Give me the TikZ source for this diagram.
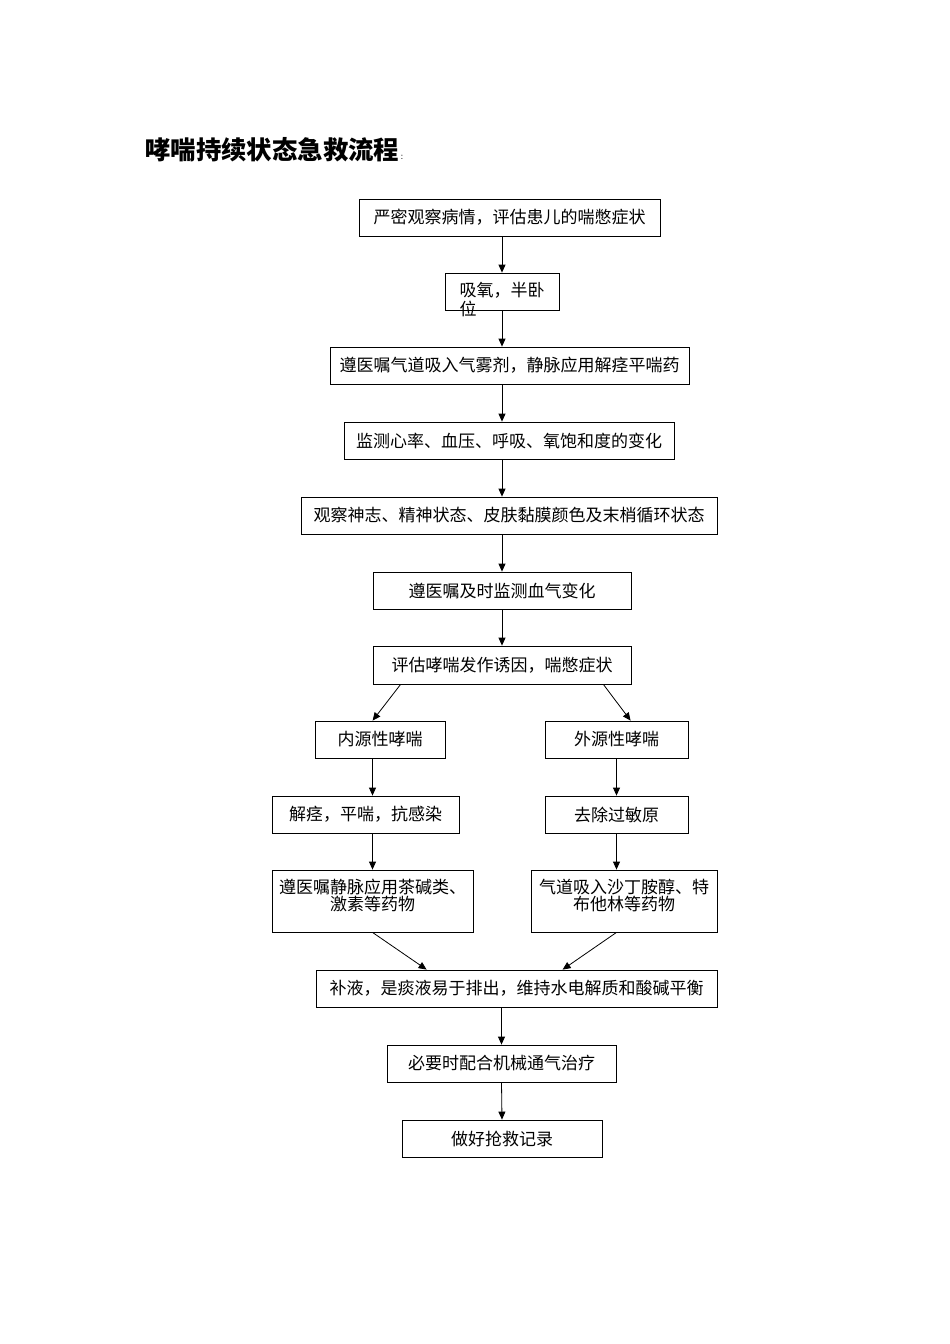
\documentclass[tikz,border=0pt]{standalone}
\usepackage{fontspec}
\newfontfamily\cjk{Noto Sans CJK SC}
\usetikzlibrary{arrows.meta,calc}
\begin{document}
\begin{tikzpicture}[x=1pt,y=-1pt,
  box/.style={draw, line width=0.8pt, inner sep=0pt, minimum height=37pt, align=center,
    font=\cjk\fontsize{17}{17}\selectfont},
  arr/.style={line width=0.8pt, -{Triangle[length=8pt,width=7pt]}}]
\fill[white] (0,0) rectangle (950,1344);
\useasboundingbox (0,0) rectangle (950,1344);
\node[anchor=west, inner sep=0pt, font=\cjk\bfseries\fontsize{25.4}{25.4}\selectfont] (title) at (145,150) {哮喘持续状态急救流程};
\node[anchor=base west, inner sep=0pt, xshift=1pt, font=\fontsize{10}{10}\selectfont] (colon) at (title.base east) {:};
\node[box, minimum width=301pt] (n1) at (509.5,217.5) {严密观察病情，评估患儿的喘憋症状};
\node[box, minimum width=114pt] (n2) at (502,291.5) {\raisebox{-4.5pt}[0pt][0pt]{\begin{tabular}[t]{@{}l@{}}吸氧，半卧\\位\end{tabular}}};
\node[box, minimum width=359pt] (n3) at (509.5,365.5) {遵医嘱气道吸入气雾剂，静脉应用解痉平喘药};
\node[box, minimum width=330pt] (n4) at (509,440.5) {监测心率、血压、呼吸、氧饱和度的变化};
\node[box, minimum width=416pt] (n5) at (509,515.5) {观察神志、精神状态、皮肤黏膜颜色及末梢循环状态};
\node[box, minimum width=258pt] (n6) at (502,590.5) {遵医嘱及时监测血气变化};
\node[box, minimum width=258pt, minimum height=38pt] (n7) at (502,665) {评估哮喘发作诱因，喘憋症状};
\node[box, minimum width=130pt] (n8) at (380,739.5) {内源性哮喘};
\node[box, minimum width=143pt] (n9) at (616.5,739.5) {外源性哮喘};
\node[box, minimum width=187pt] (n10) at (365.5,814.5) {解痉，平喘，抗感染};
\node[box, minimum width=143pt] (n11) at (616.5,814.5) {去除过敏原};
\node[box, minimum width=201pt, minimum height=62pt] (n12) at (372.5,901) {遵医嘱静脉应用茶碱类、\\激素等药物\\[-5pt]\mbox{}};
\node[box, minimum width=186pt, minimum height=62pt] (n13) at (624,901) {气道吸入沙丁胺醇、特\\布他林等药物\\[-5pt]\mbox{}};
\node[box, minimum width=401pt] (n14) at (516.5,988.5) {补液，是痰液易于排出，维持水电解质和酸碱平衡};
\node[box, minimum width=229pt] (n15) at (501.5,1063.5) {必要时配合机械通气治疗};
\node[box, minimum width=200pt] (n16) at (502,1138.5) {做好抢救记录};
\draw[arr] (n2.north |- n1.south) -- (n2.north);
\draw[arr] (n2.south) -- (n2.south |- n3.north);
\draw[arr] (n3.south -| n2) -- (n4.north -| n2);
\draw[arr] (n4.south -| n6) -- (n5.north -| n6);
\draw[arr] (n5.south -| n6) -- (n6.north);
\draw[arr] (n6.south) -- (n7.north);
\draw[arr] ([xshift=28pt]n7.south west) -- ([xshift=58pt]n8.north west);
\draw[arr] ([xshift=-28pt]n7.south east) -- ([xshift=86pt]n9.north west);
\draw[arr] (n8.south -| n12) -- (n10.north -| n12);
\draw[arr] (n10.south -| n12) -- (n12.north);
\draw[arr] (n9.south) -- (n11.north);
\draw[arr] (n11.south) -- (n13.north -| n11);
\draw[arr] (n12.south) -- ([xshift=111pt]n14.north west);
\draw[arr] (n13.south -| n11) -- ([xshift=247pt]n14.north west);
\draw[arr] (n14.south -| n15) -- (n15.north);
\draw[arr] (n15.south) -- (n16.north);
\end{tikzpicture}
\end{document}
